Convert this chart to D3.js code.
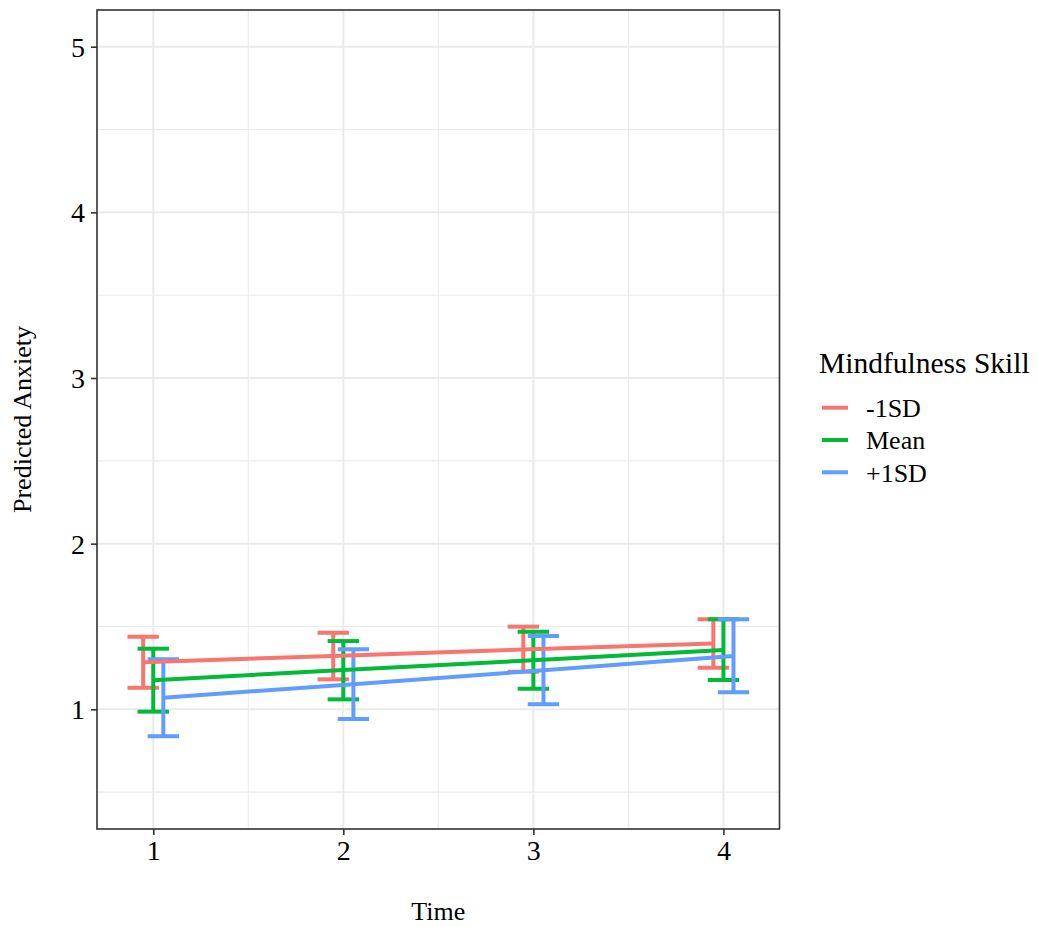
<!DOCTYPE html>
<html>
<head>
<meta charset="utf-8">
<script src="https://cdnjs.cloudflare.com/ajax/libs/d3/7.8.5/d3.min.js"></script>
<style>
  body { margin: 0; background: #fff; }
  svg { display: block; font-family: "Liberation Serif", "Times New Roman", serif; }
  .grid-major { stroke: #ebebeb; stroke-width: 2; }
  .grid-minor { stroke: #ebebeb; stroke-width: 1.1; }
  .tick-text { font-size: 28px; fill: #000; }
  .axis-title { font-size: 26px; fill: #000; }
</style>
</head>
<body>
<svg width="1038" height="927"></svg>
<script>
'use strict';

// 数据
var times = [1, 2, 3, 4];
var groups = ['-1SD', 'Mean', '+1SD'];
var colors = ['#F8766D', '#00BA38', '#619CFF'];

var meanLow = [1.284, 1.322, 1.361, 1.397];
var meanMid = [1.176, 1.237, 1.296, 1.358];
var meanHigh = [1.070, 1.152, 1.236, 1.322];

var upperLow = [1.438, 1.462, 1.499, 1.543];
var upperMid = [1.366, 1.412, 1.468, 1.543];
var upperHigh = [1.302, 1.362, 1.442, 1.543];

var lowerLow = [1.130, 1.181, 1.227, 1.251];
var lowerMid = [0.986, 1.060, 1.124, 1.177];
var lowerHigh = [0.837, 0.941, 1.030, 1.103];

var yTicks = [1, 2, 3, 4, 5];
var yMinor = [0.5, 1.5, 2.5, 3.5, 4.5];
var xMinor = [1.5, 2.5, 3.5];

var series = [
    { name: groups[0], color: colors[0], mean: meanLow, upper: upperLow, lower: lowerLow },
    { name: groups[1], color: colors[1], mean: meanMid, upper: upperMid, lower: lowerMid },
    { name: groups[2], color: colors[2], mean: meanHigh, upper: upperHigh, lower: lowerHigh }
];

// 版面
var panel = { left: 97, top: 10, right: 779.5, bottom: 829 };
var dodge = 0.053;
var capWidth = 0.165;

var svg = d3.select('svg');

var x = d3.scaleLinear().domain([0.704, 4.295]).range([panel.left, panel.right]);
var y = d3.scaleLinear().domain([0.2775, 5.2215]).range([panel.bottom, panel.top]);

function xDodge(t, gi) { return x(t + (gi - 1) * dodge); }

// 网格
var grid = svg.append('g');
grid.selectAll('line.ym').data(yMinor).enter().append('line')
    .attr('class', 'grid-minor')
    .attr('x1', panel.left).attr('x2', panel.right)
    .attr('y1', function (d) { return y(d); }).attr('y2', function (d) { return y(d); });
grid.selectAll('line.xm').data(xMinor).enter().append('line')
    .attr('class', 'grid-minor')
    .attr('y1', panel.top).attr('y2', panel.bottom)
    .attr('x1', function (d) { return x(d); }).attr('x2', function (d) { return x(d); });
grid.selectAll('line.yM').data(yTicks).enter().append('line')
    .attr('class', 'grid-major')
    .attr('x1', panel.left).attr('x2', panel.right)
    .attr('y1', function (d) { return y(d); }).attr('y2', function (d) { return y(d); });
grid.selectAll('line.xM').data(times).enter().append('line')
    .attr('class', 'grid-major')
    .attr('y1', panel.top).attr('y2', panel.bottom)
    .attr('x1', function (d) { return x(d); }).attr('x2', function (d) { return x(d); });

// 误差线
series.forEach(function (s, gi) {
    var g = svg.append('g')
        .attr('stroke', s.color)
        .attr('stroke-width', 4)
        .attr('fill', 'none');
    times.forEach(function (t, i) {
        var cx = xDodge(t, gi);
        var half = (x(capWidth) - x(0)) / 2;
        g.append('line').attr('x1', cx).attr('x2', cx)
            .attr('y1', y(s.upper[i])).attr('y2', y(s.lower[i]));
        g.append('line').attr('x1', cx - half).attr('x2', cx + half)
            .attr('y1', y(s.upper[i])).attr('y2', y(s.upper[i]));
        g.append('line').attr('x1', cx - half).attr('x2', cx + half)
            .attr('y1', y(s.lower[i])).attr('y2', y(s.lower[i]));
    });
});

// 折线
var line = d3.line();
series.forEach(function (s, gi) {
    svg.append('path')
        .attr('d', line(times.map(function (t, i) { return [xDodge(t, gi), y(s.mean[i])]; })))
        .attr('fill', 'none')
        .attr('stroke', s.color)
        .attr('stroke-width', 4);
});

// 外框
svg.append('rect')
    .attr('x', panel.left).attr('y', panel.top)
    .attr('width', panel.right - panel.left).attr('height', panel.bottom - panel.top)
    .attr('fill', 'none').attr('stroke', '#333').attr('stroke-width', 1.6);

// 坐标轴
var yAxis = svg.append('g')
    .attr('transform', 'translate(' + panel.left + ',0)')
    .call(d3.axisLeft(y).tickValues(yTicks).tickSize(6).tickPadding(6).tickFormat(d3.format('d')));
var xAxis = svg.append('g')
    .attr('transform', 'translate(0,' + panel.bottom + ')')
    .call(d3.axisBottom(x).tickValues(times).tickSize(6).tickPadding(5).tickFormat(d3.format('d')));

[yAxis, xAxis].forEach(function (a) {
    a.attr('font-family', null).attr('font-size', null);
    a.select('.domain').remove();
    a.selectAll('.tick line').attr('stroke', '#333').attr('stroke-width', 1.6);
    a.selectAll('.tick text').attr('class', 'tick-text');
});
yAxis.selectAll('.tick text').attr('dy', '0.34em');

// 轴标题
svg.append('text').attr('class', 'axis-title')
    .attr('x', (panel.left + panel.right) / 2).attr('y', 920)
    .attr('text-anchor', 'middle').text('Time');
svg.append('text').attr('class', 'axis-title')
    .attr('transform', 'translate(31,' + ((panel.top + panel.bottom) / 2) + ') rotate(-90)')
    .attr('text-anchor', 'middle').text('Predicted Anxiety');

// 图例
var legend = svg.append('g').attr('transform', 'translate(819,0)');
legend.append('text').attr('x', 0).attr('y', 373).attr('font-size', 29.5).text('Mindfulness Skill');
var items = legend.selectAll('g.item').data(series).enter().append('g')
    .attr('transform', function (d, i) { return 'translate(0,' + (407.7 + i * 32.3) + ')'; });
items.append('line').attr('x1', 3).attr('x2', 29).attr('y1', 0).attr('y2', 0)
    .attr('stroke', function (d) { return d.color; }).attr('stroke-width', 4);
items.append('text').attr('x', 47).attr('y', 9.3).attr('font-size', 26)
    .text(function (d) { return d.name; });
</script>
</body>
</html>
